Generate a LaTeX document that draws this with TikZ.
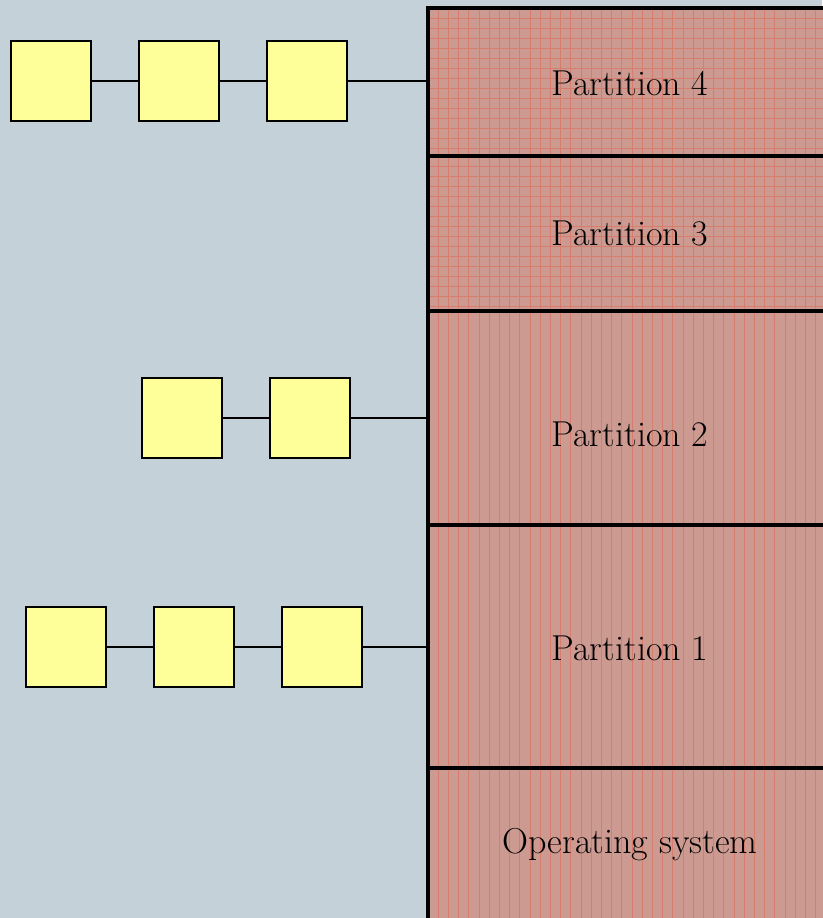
\documentclass[tikz,border=0pt]{standalone}
\definecolor{bgblue}{HTML}{C5D1D9}
\definecolor{memred}{HTML}{CC9A90}
\definecolor{gridred}{HTML}{DC7060}
\definecolor{procyellow}{HTML}{FFFF99}
\begin{document}
\begin{tikzpicture}[x=0.2mm, y=-0.2mm,
	proc/.style={rectangle, draw=black, line width=1.1pt, fill=procyellow, minimum size=16mm, inner sep=0pt, outer sep=0pt},
	vlines/.style={path picture={\foreach \i in {1,...,40} \draw[gridred!70!memred, line width=0.45pt] ([xshift=\i*2.04mm]path picture bounding box.south west) -- ([xshift=\i*2.04mm]path picture bounding box.north west);}},
	hlines/.style={path picture={\foreach \i in {1,...,16} \draw[gridred!70!memred, line width=0.45pt] ([yshift=-\i*2mm]path picture bounding box.north west) -- ([yshift=-\i*2mm]path picture bounding box.north east);
		\foreach \i in {1,...,40} \draw[gridred!70!memred, line width=0.45pt] ([xshift=\i*2.04mm]path picture bounding box.south west) -- ([xshift=\i*2.04mm]path picture bounding box.north west);}},
	part/.style={rectangle, draw=black, line width=2pt, fill=memred, minimum width=80mm, inner sep=0pt, outer sep=0pt},
	plabel/.style={font=\fontsize{20.5}{24}\selectfont}]
	\useasboundingbox (0,0) rectangle (822,918);
	\fill[bgblue] (0,0) rectangle (822,918);
	% memory
	\node (p4) at (628, 82)		[part, hlines, minimum height=29.6mm]	{};
	\node (p3) at (628, 233.5)	[part, hlines, minimum height=31mm]	{};
	\node (p2) at (628, 418)	[part, vlines, minimum height=42.8mm]	{};
	\node (p1) at (628, 646.5)	[part, vlines, minimum height=48.6mm]	{};
	\node (os) at (628, 848)	[part, vlines, minimum height=32mm]	{};
	\node (l4) at (630, 83)		[plabel]	{Partition 4};
	\node (l3) at (630, 233)	[plabel]	{Partition 3};
	\node (l2) at (630, 434)	[plabel]	{Partition 2};
	\node (l1) at (630, 648)	[plabel]	{Partition 1};
	\node (lo) at (630, 845)	[plabel]	{Operating system};
	% processes
	\node (a1) at ( 51, 81)		[proc]	{};
	\node (a2) at (179, 81)		[proc]	{};
	\node (a3) at (307, 81)		[proc]	{};
	\node (b1) at (182, 418)	[proc]	{};
	\node (b2) at (310, 418)	[proc]	{};
	\node (c1) at ( 66, 647)	[proc]	{};
	\node (c2) at (194, 647)	[proc]	{};
	\node (c3) at (322, 647)	[proc]	{};
	\draw[line width=1.1pt] (a1) -- (a2);
	\draw[line width=1.1pt] (a2) -- (a3);
	\draw[line width=1.1pt] (a3) -- (a3 -| p4.west);
	\draw[line width=1.1pt] (b1) -- (b2);
	\draw[line width=1.1pt] (b2) -- (b2 -| p2.west);
	\draw[line width=1.4pt] (c1) -- (c2);
	\draw[line width=1.4pt] (c2) -- (c3);
	\draw[line width=1.1pt] (c3) -- (c3 -| p1.west);
\end{tikzpicture}
\end{document}
